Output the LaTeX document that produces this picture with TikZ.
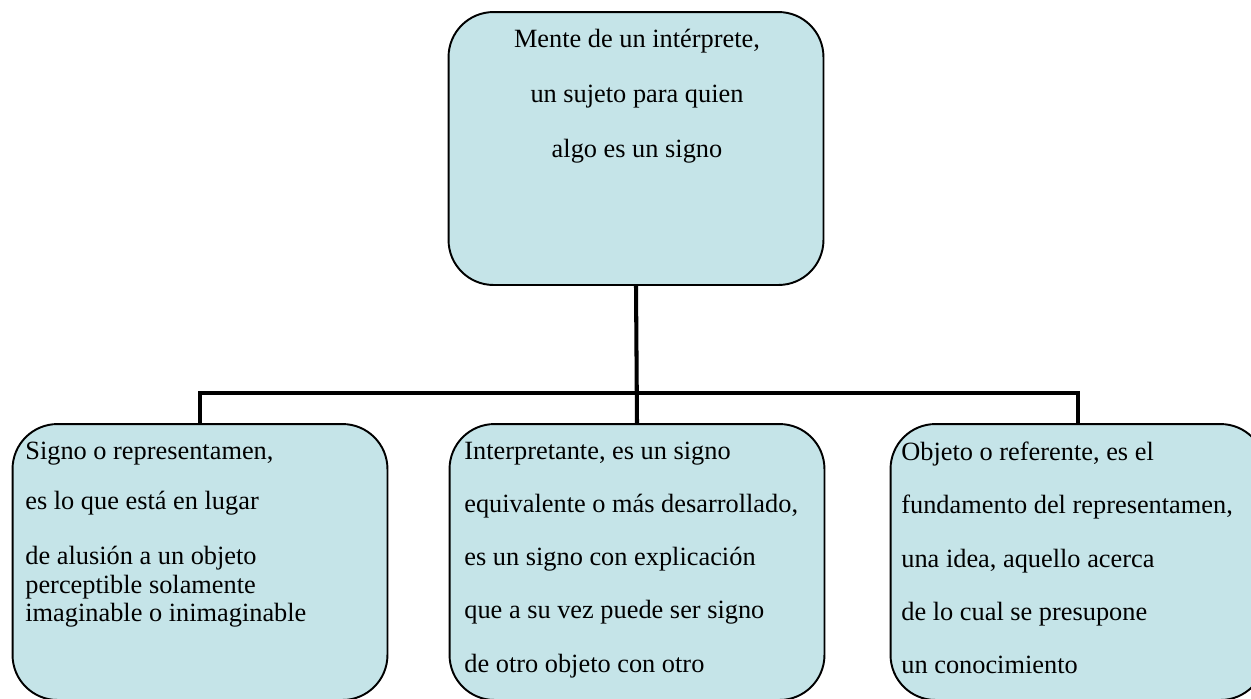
\documentclass[tikz,border=0pt]{standalone}
\usepackage{fontspec}
\setmainfont{Liberation Serif}
\definecolor{celeste}{HTML}{C5E4E8}
\begin{document}
\begin{tikzpicture}[x=0.02cm, y=-0.02cm]
	\tikzset{
		caja/.style={draw, line width=1.1pt, fill=celeste, rounded corners=0.9cm, minimum width=7.5cm, inner sep=0},
		texto/.style={inner sep=0, font=\fontsize{15}{16.2}\selectfont},
		linea/.style={line width=2.3pt}
	}
	\useasboundingbox (0,0) rectangle (1251,698);
	\node[caja, minimum height=5.46cm] (mente) at (636,148.5) {};
	\foreach \n/\x in {signo/200, interp/637, objeto/1078}
		{
			\node[caja, minimum height=5.52cm] (\n) at (\x,562) {};
		}
	\coordinate (barra) at (637,393);
	\draw[linea] (mente.south) -- (interp.north);
	\draw[linea] (signo.north) |- (barra) -| (objeto.north);

	\node[texto, anchor=north, align=center] (mentetx) at (637,29)
	{Mente de un intérprete,\\[15.1pt] un sujeto para quien\\[15.1pt] algo es un signo};
	\node[texto, anchor=north west, align=left] (signotx) at (25,442)
	{Signo o representamen,\\[12.3pt] es lo que está en lugar\\[15.1pt] de alusión a un objeto\\ perceptible solamente\\ imaginable o inimaginable};
	\node[texto, anchor=north west, align=left] (interptx) at (464,442)
	{Interpretante, es un signo\\[14pt] equivalente o más desarrollado,\\[14pt] es un signo con explicación\\[14pt] que a su vez puede ser signo\\[14pt] de otro objeto con otro};
	\node[texto, anchor=north west, align=left] (objetotx) at (901,442)
	{Objeto o referente, es el\\[14pt] fundamento del representamen,\\[14pt] una idea, aquello acerca\\[14pt] de lo cual se presupone\\[14pt] un conocimiento};
\end{tikzpicture}
\end{document}
